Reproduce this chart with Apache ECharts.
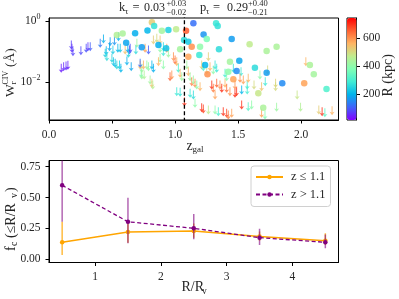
<!DOCTYPE html>
<html><head><meta charset="utf-8">
<script src="https://cdn.jsdelivr.net/npm/echarts@6/dist/echarts.min.js"></script>
<style>html,body{margin:0;padding:0;background:#fff}#c{width:399px;height:299px}</style>
</head><body><div id="c"></div>
<script>
// ---- top panel: detections (circles) ----
const detZ = [0.538,0.584,0.612,0.683,0.781,0.816,0.834,0.895,0.947,1.008,1.087,0.736,0.868,0.929,1.040,1.071,1.145,1.325,1.338,1.105,1.132,1.198,1.226,1.251,1.449,1.348,1.192,1.105,1.435,1.257,1.488,1.422,1.591,1.726,1.805,1.509,1.633,1.850,1.660,2.069,2.100,2.024,2.201,1.699,1.238,1.726,1.462];
const detLogW = [-0.457,-0.408,-0.708,-0.402,-0.31,-0.043,-0.163,-0.317,-0.294,-0.271,-0.317,-0.858,-0.783,-0.891,-0.924,-0.62,-0.075,-0.075,-0.163,-0.676,-0.839,-0.839,-0.441,-0.588,-0.588,-0.924,-1.11,-1.165,-1.328,-1.736,-1.632,-1.655,-0.76,-0.979,-0.839,-1.296,-1.524,-2.033,-2.36,-1.436,-1.739,-2.033,-2.219,-2.829,-1.436,-1.687,-1.903];
const detR = [450,440,180,190,200,520,270,430,240,470,660,170,190,220,430,260,120,280,270,230,600,400,160,370,170,260,280,580,430,600,150,400,470,440,440,180,260,150,480,440,430,580,310,440,200,170,580];
// ---- top panel: upper limits (arrows) ----
const limZ = [0.097,0.116,0.135,0.150,0.177,0.182,0.190,0.253,0.295,0.309,0.327,0.406,0.432,0.454,0.446,0.459,0.485,0.480,0.519,0.551,0.507,0.546,0.565,0.499,0.511,0.525,0.538,0.559,0.570,0.604,0.625,0.638,0.644,0.618,0.652,0.630,0.697,0.689,0.723,0.736,0.731,
0.762,0.789,0.723,0.749,0.776,0.789,0.816,0.828,0.736,0.755,0.802,0.816,0.823,0.828,0.855,0.881,0.881,0.907,0.934,0.947,0.907,0.881,0.868,0.907,0.987,1.0,1.013,0.960,0.974,1.026,1.040,1.053,1.013,1.040,1.074,
1.093,1.105,1.119,1.132,1.145,1.158,1.172,1.198,1.211,1.224,1.251,1.264,1.277,1.303,1.317,1.291,1.303,1.317,1.330,1.356,1.370,1.396,1.409,1.435,1.119,1.145,1.158,1.211,1.224,1.264,1.317,1.343,1.382,1.409,1.422,1.449,1.475,1.488,1.330,1.396,1.409,1.462,
2.037,1.734,1.673,1.715,1.797,1.797,1.686,1.626,1.572,1.572,1.528,1.523,1.515,1.541,1.580,1.475,1.968,1.528,1.580,1.607,1.805,1.995,1.686,1.713,2.166,2.188,2.245,2.14];
const limLogW = [-1.544,-1.491,-1.469,-1.446,-0.783,-0.891,-1.002,-0.969,-0.891,-0.839,-0.839,-0.728,-0.588,-0.969,-1.054,-1.165,-0.676,-0.839,-0.653,-0.513,-0.947,-0.891,-0.891,-1.217,-1.328,-1.38,-1.436,-1.436,-1.544,-0.947,-0.891,-0.947,-0.891,-1.305,-1.491,-1.054,-0.728,-0.947,-1.436,-1.544,-1.707,
-0.891,-0.947,-1.38,-1.436,-1.436,-1.491,-1.436,-1.544,-1.763,-1.763,-1.926,-2.033,-2.089,-0.62,-0.565,-0.62,-0.891,-1.002,-0.891,-1.054,-0.839,-1.217,-1.328,-1.436,-1.165,-1.273,-1.328,-1.818,-1.763,-1.544,-1.707,-1.818,-2.307,-2.327,-2.634,
-1.436,-1.655,-1.818,-1.981,-1.926,-2.033,-2.089,-2.144,-1.436,-1.491,-1.6,-1.165,-1.491,-1.6,-1.436,-2.089,-2.196,-2.415,-2.033,-2.089,-2.196,-2.033,-2.196,-2.307,-2.36,-2.415,-2.686,-2.829,-2.872,-2.904,-2.904,-2.96,-2.96,-3.012,-3.067,-3.012,-2.089,-2.307,-1.544,-1.707,-1.818,-1.544,
-1.328,-1.6,-1.763,-1.981,-2.033,-2.144,-2.144,-2.089,-2.089,-2.252,-2.252,-1.655,-1.87,-1.926,-1.87,-2.36,-2.415,-2.741,-2.797,-2.741,-2.816,-2.816,-3.012,-3.067,-2.96,-2.993,-2.927,-2.904];
const limR = [40,50,60,45,70,60,75,80,90,60,100,130,190,200,240,260,170,180,160,190,230,200,220,250,230,210,260,230,200,540,180,110,90,190,180,250,420,260,560,430,380,
580,100,120,560,420,400,200,190,420,440,430,540,460,520,500,540,400,280,580,420,260,430,560,400,600,640,560,650,600,300,560,420,280,270,700,
430,560,420,620,430,600,400,560,520,300,500,520,560,400,270,700,620,580,650,600,700,560,640,600,280,260,400,700,680,470,400,300,700,680,620,580,600,700,280,300,380,270,
560,500,400,280,510,500,540,500,300,290,200,280,600,580,560,700,480,700,320,400,420,450,580,380,700,330,560,520];
const zSplit = 1.074;
const topXTicks = [0, 0.5, 1.0, 1.5, 2.0];
const topYTicks = [-2, 0];            // log10 W
const cbarTicks = [200, 400, 600];
const cbarMin = 13, cbarMax = 744;

// ---- bottom panel ----
const binX = [0.5, 1.5, 2.5, 3.5, 4.5];
const lowY = [0.138, 0.221, 0.229, 0.185, 0.151];
const lowLo = [0.035, 0.134, 0.175, 0.15, 0.116];
const lowHi = [0.304, 0.31, 0.29, 0.225, 0.21];
const highY = [0.599, 0.304, 0.251, 0.175, 0.138];
const highLo = [0.304, 0.13, 0.162, 0.116, 0.089];
const highHi = [0.95, 0.499, 0.367, 0.248, 0.20];
const botXTicks = [1, 2, 3, 4];
const botYTicks = [0, 0.25, 0.5, 0.75];
const lowName = 'z \u2264 1.1', highName = 'z > 1.1';

const FF = '"Liberation Serif", "DejaVu Serif", serif';
const TC = '#262626';
const rainbow = ['#8000ff','#4062fa','#00b4ec','#40ecd4','#80ffb4','#c0ec8e','#ffb462','#ff6232','#ff0000'];
const arrowPath = 'path://M-0.5,0L0.5,0L0.5,7L2.5,6.3L0,10L-2.5,6.3L-0.5,7Z';

function axisCommon(ticks, fmt, margin) {
  return {
    axisLine: {show: true, onZero: false, lineStyle: {color: '#000', width: 1}},
    axisTick: {show: true, customValues: ticks, length: 3.5, lineStyle: {color: '#000', width: 1}},
    axisLabel: {show: true, customValues: ticks, formatter: fmt, margin: margin, color: TC, fontFamily: FF, fontSize: 11.5},
    splitLine: {show: false}
  };
}

function errSeries(lo, hi, color, z) {
  return {
    type: 'custom', xAxisIndex: 1, yAxisIndex: 1, clip: true, silent: true, z: z,
    data: binX.map((x, i) => [x, lo[i], hi[i]]),
    encode: {x: 0, y: [1, 2]},
    renderItem: function (params, api) {
      const a = api.coord([api.value(0), api.value(1)]);
      const b = api.coord([api.value(0), api.value(2)]);
      return {type: 'line', shape: {x1: a[0], y1: a[1], x2: b[0], y2: b[1]},
        style: {stroke: color, lineWidth: 1.5}};
    }
  };
}

function txt(x, y, s, size, align) {
  return {type: 'text', x: x, y: y, silent: true,
    style: {text: s, fontFamily: FF, fontSize: size, fill: TC, textAlign: align || 'left', textVerticalAlign: 'middle'}};
}
function rotGroup(x, y, parts) {
  return {type: 'group', x: x, y: y, rotation: Math.PI / 2, silent: true,
    children: parts.map(p => txt(p[1], p[2], p[0], p[3]))};
}

const chart = echarts.init(document.getElementById('c'), null, {renderer: 'canvas'});
chart.setOption({
  animation: false,
  backgroundColor: '#fff',
  grid: [
    {left: 49, top: 18, width: 289.5, height: 102, show: true, borderColor: '#000', borderWidth: 1, backgroundColor: 'transparent'},
    {left: 49, top: 160.5, width: 289.5, height: 102, show: true, borderColor: '#000', borderWidth: 1, backgroundColor: 'transparent'},
    {left: 347, top: 18, width: 9.5, height: 102, show: true, borderColor: '#000', borderWidth: 1, backgroundColor: 'transparent'}
  ],
  xAxis: [
    Object.assign({type: 'value', gridIndex: 0, min: 0, max: 2.296}, axisCommon(topXTicks, v => v.toFixed(1), 8.5)),
    Object.assign({type: 'value', gridIndex: 1, min: 0.3, max: 4.7}, axisCommon(botXTicks, v => String(v), 8.5)),
    {type: 'value', gridIndex: 2, min: 0, max: 1, show: false}
  ],
  yAxis: [
    Object.assign({type: 'value', gridIndex: 0, min: -3.23, max: 0.095},
      axisCommon(topYTicks, v => v, 8.5),
      {axisLabel: {show: true, customValues: topYTicks, margin: 8.5, color: TC, fontFamily: FF,
        formatter: v => '{b|10}{s|' + (Math.abs(v) < 1e-9 ? '0' : '\u22122') + '}',
        rich: {b: {fontSize: 11.5, fontFamily: FF, color: TC},
               s: {fontSize: 8, fontFamily: FF, color: TC, padding: [0, 0, 8, 0]}}}}),
    Object.assign({type: 'value', gridIndex: 1, min: -0.026, max: 0.80}, axisCommon(botYTicks, v => v.toFixed(2), 8.5)),
    Object.assign({type: 'value', gridIndex: 2, min: cbarMin, max: cbarMax, position: 'right'}, axisCommon(cbarTicks, v => String(v), 6.5))
  ],
  visualMap: [{
    type: 'continuous', min: cbarMin, max: cbarMax, dimension: 2, seriesIndex: [0, 1],
    inRange: {color: rainbow}, orient: 'vertical', left: 347, top: 18, padding: 0,
    itemWidth: 9.5, itemHeight: 102, calculable: false, hoverLink: false, text: ['', ''],
    textGap: 0, showLabel: false
  }],
  legend: {
    show: true, data: [lowName, highName], orient: 'vertical', left: 251, top: 166,
    padding: [4.5, 5, 5.5, 4], itemWidth: 27, itemHeight: 5.5, itemGap: 4.5,
    backgroundColor: 'rgba(255,255,255,0.8)', borderColor: '#d0d0d0', borderWidth: 1, borderRadius: 3,
    textStyle: {fontFamily: FF, fontSize: 12.5, color: TC, padding: [0, 0, 0, 3]}
  },
  series: [
    {type: 'scatter', name: 'det', xAxisIndex: 0, yAxisIndex: 0, symbol: 'circle', symbolSize: 6.5,
      itemStyle: {opacity: 0.85}, z: 3, silent: true,
      data: detZ.map((z, i) => [z, detLogW[i], detR[i]])},
    {type: 'scatter', name: 'lim', xAxisIndex: 0, yAxisIndex: 0, symbol: arrowPath, symbolSize: [5, 9],
      itemStyle: {opacity: 0.8}, z: 2, silent: true,
      data: limZ.map((z, i) => [z, limLogW[i], limR[i]])},
    {type: 'line', name: 'split', xAxisIndex: 0, yAxisIndex: 0, symbol: 'none', clip: true, silent: true, z: 4,
      lineStyle: {color: '#000', width: 1.3, type: [4, 2.5]},
      data: [[zSplit, -3.5], [zSplit, 0.5]]},
    errSeries(lowLo, lowHi, 'rgba(255,165,0,0.75)', 2),
    {type: 'line', name: lowName, xAxisIndex: 1, yAxisIndex: 1, color: '#ffa500', z: 3,
      symbol: 'circle', symbolSize: 4.5, lineStyle: {width: 1.5, color: '#ffa500'}, itemStyle: {color: '#ffa500'},
      data: binX.map((x, i) => [x, lowY[i]])},
    errSeries(highLo, highHi, 'rgba(128,0,128,0.6)', 4),
    {type: 'line', name: highName, xAxisIndex: 1, yAxisIndex: 1, color: '#800080', z: 5,
      symbol: 'circle', symbolSize: 4.5, lineStyle: {width: 1.3, color: '#800080', type: [4, 2.5]}, itemStyle: {color: '#800080'},
      data: binX.map((x, i) => [x, highY[i]])}
  ],
  graphic: [
    // title
    txt(119, 8, 'k', 12.5), txt(125, 11.5, '\u03c4', 8.5), txt(132.5, 8, '=', 12.5), txt(144, 8, '0.03', 12),
    txt(166.5, 3.5, '+0.03', 8.5), txt(166.5, 12.5, '\u22120.02', 8.5),
    txt(200, 8, 'p', 12.5), txt(206, 11.5, '\u03c4', 8.5), txt(213, 8, '=', 12.5), txt(227, 8, '0.29', 12),
    txt(248, 3.5, '+0.40', 8.5), txt(248, 12.5, '\u22120.21', 8.5),
    // x labels
    txt(186.5, 146.5, 'z', 14), txt(192.5, 149.5, 'gal', 9),
    txt(181.5, 287.5, 'R/R', 14), txt(202, 291, 'v', 9.5),
    // y labels (rotated)
    rotGroup(10, 97, [['W', 0, 0, 13.5], ['CIV', 12.5, -4.5, 8], ['r', 12.5, 4, 9], ['(\u00c5)', 30, 0, 13.5]]),
    rotGroup(11, 251, [['f', 0, 0, 14], ['c', 5, 3.5, 10], ['(\u2264R/R', 13, 0, 14], ['v', 53, 3.5, 10], [')', 59, 0, 14]]),
    rotGroup(388, 96.5, [['R (kpc)', 0, 0, 14]])
  ]
});
</script></body></html>
